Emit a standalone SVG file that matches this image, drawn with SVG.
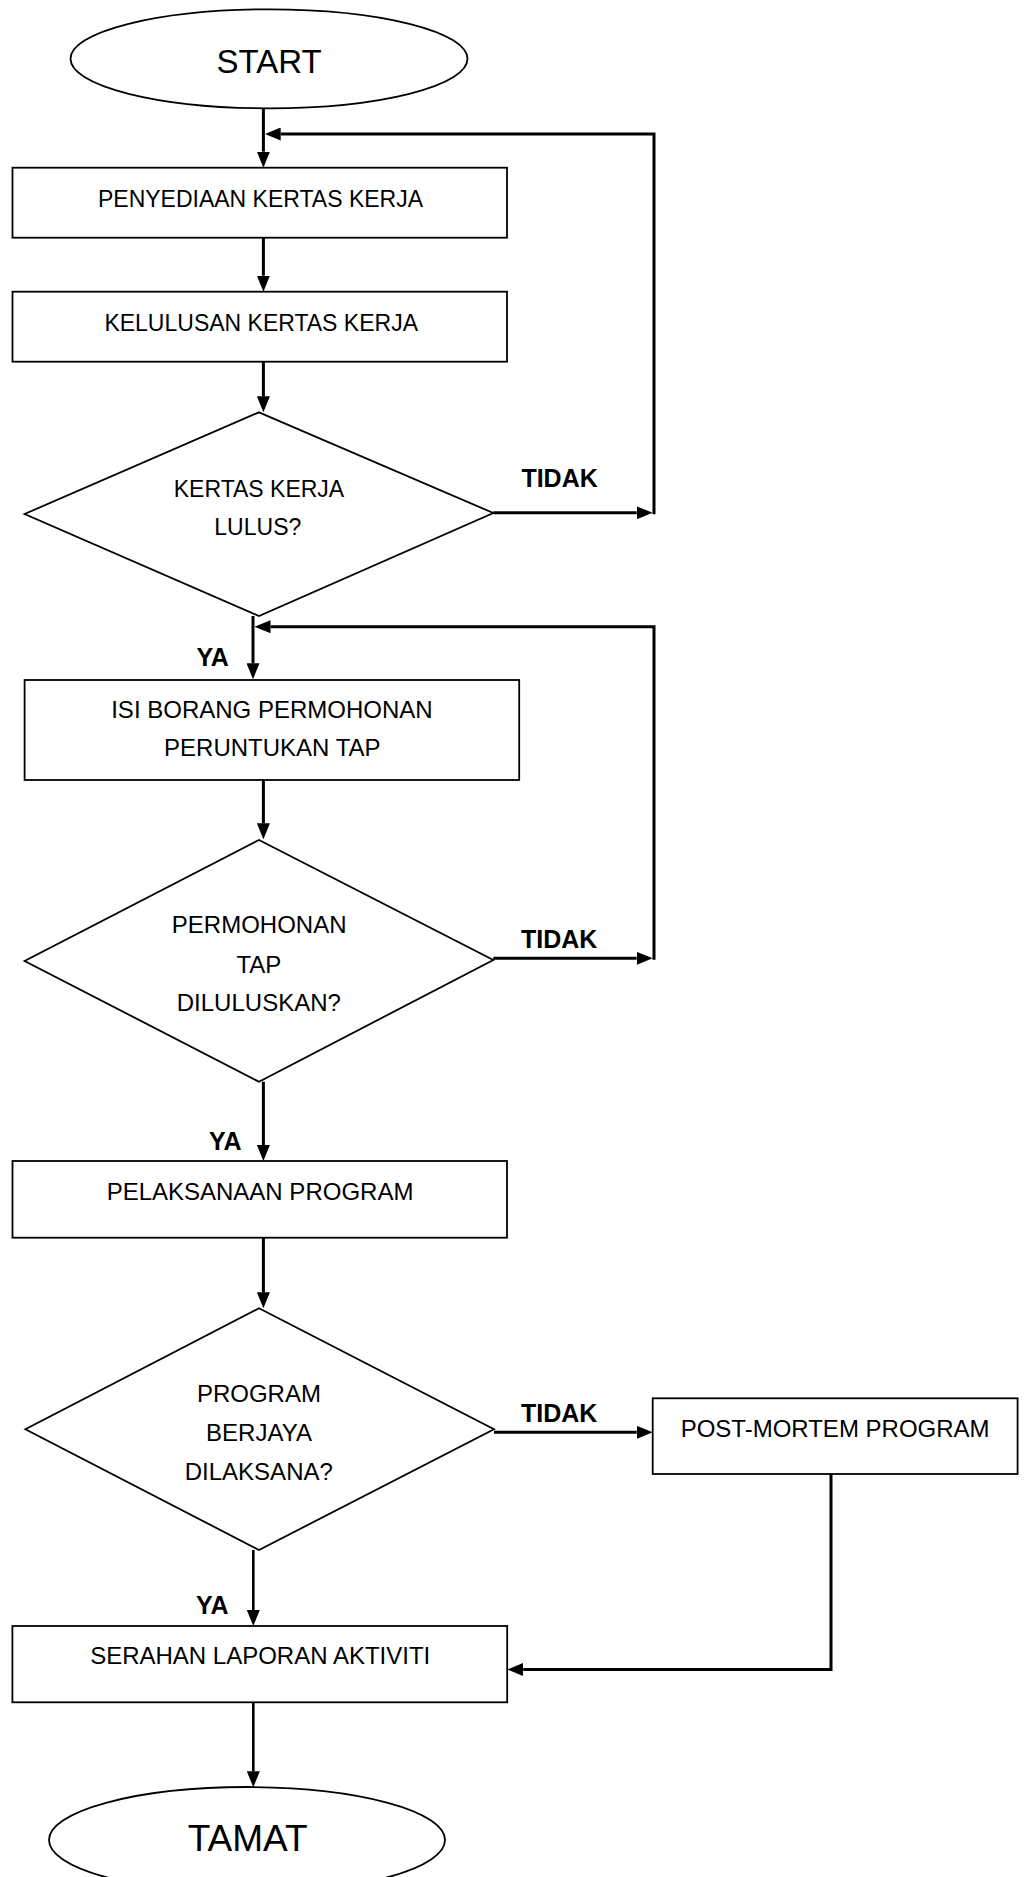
<svg xmlns="http://www.w3.org/2000/svg" width="1026" height="1877" viewBox="0 0 1026 1877">
<style>
  .shape { fill: #ffffff; stroke: #000000; stroke-width: 1.8; }
  .t { font-family: "Liberation Sans", Arial, sans-serif; fill: #000000; text-anchor: middle; }
  .big { font-size: 34px; }
  .b23 { font-size: 23px; }
  .b24 { font-size: 24px; }
  .lbl { font-family: "Liberation Sans", Arial, sans-serif; font-weight: bold; font-size: 25px; fill: #000000; }
  .conn { fill: none; stroke: #000000; stroke-width: 3; marker-end: url(#ah); }
</style>
<defs>
  <marker id="ah" markerWidth="16" markerHeight="13" refX="0" refY="6.5" orient="auto" markerUnits="userSpaceOnUse" viewBox="0 0 16 13">
    <path d="M0,0 L16,6.5 L0,13 z" fill="#000000"/>
  </marker>
</defs>
<rect x="0" y="0" width="1026" height="1877" fill="#ffffff"/>

<g id="connectors">
  <path class="conn" d="M263.4,108.3 V151.7"/>
  <path class="conn" d="M263.4,237.7 V275.7"/>
  <path class="conn" d="M263.4,361.7 V396.3"/>
  <path class="conn" d="M493.3,512.8 H636.7"/>
  <path class="conn" d="M654,514.3 V134 H280.7"/>
  <path class="conn" d="M253,616 V663.3"/>
  <path class="conn" d="M263.4,780 V823.3"/>
  <path class="conn" d="M493.3,958.3 H636.7"/>
  <path class="conn" d="M654,959.8 V626.7 H270.5"/>
  <path class="conn" d="M263.4,1081.7 V1145"/>
  <path class="conn" d="M263.4,1237.7 V1292.3"/>
  <path class="conn" d="M494,1432.3 H636.7"/>
  <path class="conn" d="M253.3,1550 V1610" style="stroke-width:2.6"/>
  <path class="conn" d="M831,1474 V1669.5 H523.2"/>
  <path class="conn" d="M253.3,1702.3 V1771.3" style="stroke-width:2.6"/>
  <text class="lbl" x="521.4" y="486.7">TIDAK</text>
  <text class="lbl" x="196.4" y="665.7">YA</text>
  <text class="lbl" x="521" y="947.7">TIDAK</text>
  <text class="lbl" x="209" y="1150">YA</text>
  <text class="lbl" x="521" y="1421.7">TIDAK</text>
  <text class="lbl" x="196" y="1614">YA</text>
</g>

<g id="start">
  <ellipse class="shape" cx="269" cy="58.8" rx="198.5" ry="49.5"/>
  <text class="t big" x="269" y="72.7" style="font-size:33px">START</text>
</g>

<g id="penyediaan">
  <rect class="shape" x="12.5" y="167.7" width="494.5" height="70"/>
  <text class="t b23" x="260.5" y="207.3">PENYEDIAAN KERTAS KERJA</text>
</g>

<g id="kelulusan">
  <rect class="shape" x="12.5" y="291.7" width="494.5" height="70"/>
  <text class="t b23" x="261.2" y="331">KELULUSAN KERTAS KERJA</text>
</g>

<g id="kertas-lulus">
  <polygon class="shape" points="259,412.3 493.3,513 259,616 24.6,514"/>
  <text class="t b23" x="259" y="496.7">KERTAS KERJA</text>
  <text class="t b23" x="257.8" y="535">LULUS?</text>
</g>

<g id="isi-borang">
  <rect class="shape" x="24.6" y="680" width="494.6" height="100"/>
  <text class="t b24" x="271.9" y="718.3">ISI BORANG PERMOHONAN</text>
  <text class="t b24" x="272.3" y="756">PERUNTUKAN TAP</text>
</g>

<g id="permohonan-lulus">
  <polygon class="shape" points="259,840 493.3,960 259,1081.7 24.6,961"/>
  <text class="t b24" x="259.2" y="933.3">PERMOHONAN</text>
  <text class="t b24" x="258.9" y="972.7">TAP</text>
  <text class="t b24" x="258.8" y="1010.7">DILULUSKAN?</text>
</g>

<g id="pelaksanaan">
  <rect class="shape" x="12.5" y="1161" width="494.5" height="76.7"/>
  <text class="t b24" x="260" y="1200">PELAKSANAAN PROGRAM</text>
</g>

<g id="program-berjaya">
  <polygon class="shape" points="259,1308.3 494,1429.3 259,1550 25.4,1429.3"/>
  <text class="t b24" x="258.9" y="1401.7">PROGRAM</text>
  <text class="t b24" x="259" y="1440.7">BERJAYA</text>
  <text class="t b24" x="258.8" y="1480">DILAKSANA?</text>
</g>

<g id="post-mortem">
  <rect class="shape" x="652.7" y="1398.3" width="364.9" height="75.7"/>
  <text class="t b24" x="835.1" y="1436.7">POST-MORTEM PROGRAM</text>
</g>

<g id="serahan">
  <rect class="shape" x="12.4" y="1626" width="494.8" height="76.3"/>
  <text class="t b24" x="260.2" y="1664.3">SERAHAN LAPORAN AKTIVITI</text>
</g>

<g id="tamat">
  <ellipse class="shape" cx="247" cy="1840" rx="198" ry="53"/>
  <text class="t" x="247.7" y="1850.7" style="font-size:37px">TAMAT</text>
</g>
</svg>
